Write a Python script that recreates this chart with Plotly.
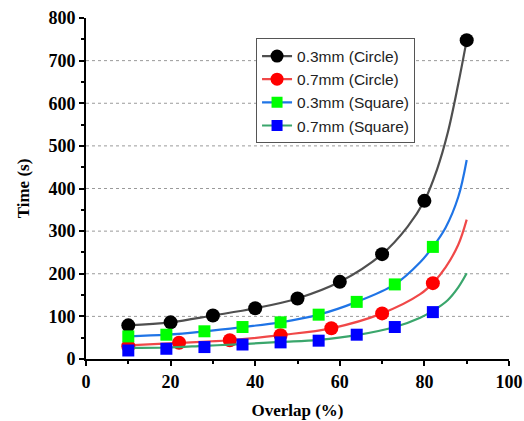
import plotly.graph_objects as go

# Measured points (markers)
x_c03 = [10, 20, 30, 40, 50, 60, 70, 80, 90]
y_c03 = [79, 86, 102, 119, 142, 181, 246, 371, 748]

x_c07 = [10, 22, 34, 46, 58, 70, 82]
y_c07 = [30, 38, 44, 56, 72, 107, 178]

x_s03 = [10, 19, 28, 37, 46, 55, 64, 73, 82]
y_s03 = [53, 57, 65, 75, 86, 104, 134, 175, 263]

x_s07 = [10, 19, 28, 37, 46, 55, 64, 73, 82]
y_s07 = [20, 24, 28, 34, 39, 43, 57, 75, 110]

# Trend curves
fx_c03 = [10, 20, 30, 40, 50, 60, 70, 76, 80, 83, 85.5, 88, 90]
fy_c03 = [79, 86, 102, 119, 142, 181, 246, 310, 371, 445, 530, 645, 748]

fx_c07 = [10, 22, 34, 46, 58, 70, 79, 82, 85, 88, 90]
fy_c07 = [32, 38, 44, 56, 72, 107, 152, 178, 215, 268, 327]

fx_s03 = [10, 19, 28, 37, 46, 55, 64, 73, 79, 82, 85, 88, 90]
fy_s03 = [53, 57, 65, 75, 86, 104, 134, 175, 227, 263, 308, 380, 467]

fx_s07 = [10, 19, 28, 37, 46, 55, 64, 73, 79, 82, 85.5, 88, 90]
fy_s07 = [26, 27, 31, 35, 40, 45, 56, 75, 97, 113, 138, 168, 201]

names = ["0.3mm (Circle)", "0.7mm (Circle)", "0.3mm (Square)", "0.7mm (Square)"]
line_colors = ["#4f4f4f", "#f04848", "#1f74e6", "#3aa66c"]
marker_colors = ["#000000", "#ff0000", "#00ff00", "#0000ff"]
symbols = ["circle", "circle", "square", "square"]
msizes = [14, 14, 12, 12]

points = [(x_c03, y_c03), (x_c07, y_c07), (x_s03, y_s03), (x_s07, y_s07)]
curves = [(fx_c03, fy_c03), (fx_c07, fy_c07), (fx_s03, fy_s03), (fx_s07, fy_s07)]

fig = go.Figure()

for i in range(4):
    cx, cy = curves[i]
    px, py = points[i]
    fig.add_trace(go.Scatter(
        x=cx, y=cy, mode="lines",
        line=dict(color=line_colors[i], width=2.2, shape="spline", smoothing=1.0),
        showlegend=False, hoverinfo="skip"))
    fig.add_trace(go.Scatter(
        x=px, y=py, mode="markers",
        marker=dict(color=marker_colors[i], symbol=symbols[i], size=msizes[i],
                    line=dict(width=0)),
        showlegend=False))

# Legend entries combining line and marker styles
for i in range(4):
    fig.add_trace(go.Scatter(
        x=[None], y=[None], mode="lines+markers", name=names[i],
        line=dict(color=line_colors[i], width=2.2),
        marker=dict(color=marker_colors[i], symbol=symbols[i],
                    size=13 if symbols[i] == "circle" else 11)))

grid_shapes = [
    dict(type="line", xref="paper", yref="y", x0=0, x1=1, y0=v, y1=v,
         line=dict(color="#9a9a9a", width=1, dash="dot"), layer="below")
    for v in range(100, 800, 100)
]

tick_font = dict(family="Liberation Serif", size=18, color="black", weight="bold")
title_font = dict(family="Liberation Serif", size=17, color="black", weight="bold")

fig.update_layout(
    width=524, height=421,
    margin=dict(l=86, r=15, t=18, b=62),
    paper_bgcolor="white", plot_bgcolor="white",
    shapes=grid_shapes,
    legend=dict(
        x=0.402, y=0.94, xanchor="left", yanchor="top",
        bgcolor="white", bordercolor="#555555", borderwidth=1,
        font=dict(family="Liberation Sans", size=15.5, color="#222222"),
        tracegroupgap=0, itemwidth=30,
    ),
    xaxis=dict(
        range=[0, 100], tickvals=[0, 20, 40, 60, 80, 100],
        showline=True, linecolor="black", linewidth=2,
        ticks="outside", ticklen=5, tickwidth=2, tickcolor="black",
        minor=dict(dtick=10, tick0=0, ticks="outside", ticklen=3, tickwidth=2,
                   tickcolor="black", showgrid=False),
        showgrid=False, zeroline=False, tickfont=tick_font, automargin=False,
        title=dict(text="Overlap (%)", font=title_font, standoff=14),
    ),
    yaxis=dict(
        range=[0, 800], tickvals=list(range(0, 900, 100)),
        showline=True, linecolor="black", linewidth=2,
        ticks="outside", ticklen=5, tickwidth=2, tickcolor="black",
        minor=dict(dtick=50, tick0=0, ticks="outside", ticklen=3, tickwidth=2,
                   tickcolor="black", showgrid=False),
        showgrid=False, zeroline=False, tickfont=tick_font, automargin=False,
        title=dict(text="Time (s)", font=title_font, standoff=14),
    ),
)

fig.write_html("out.html")
